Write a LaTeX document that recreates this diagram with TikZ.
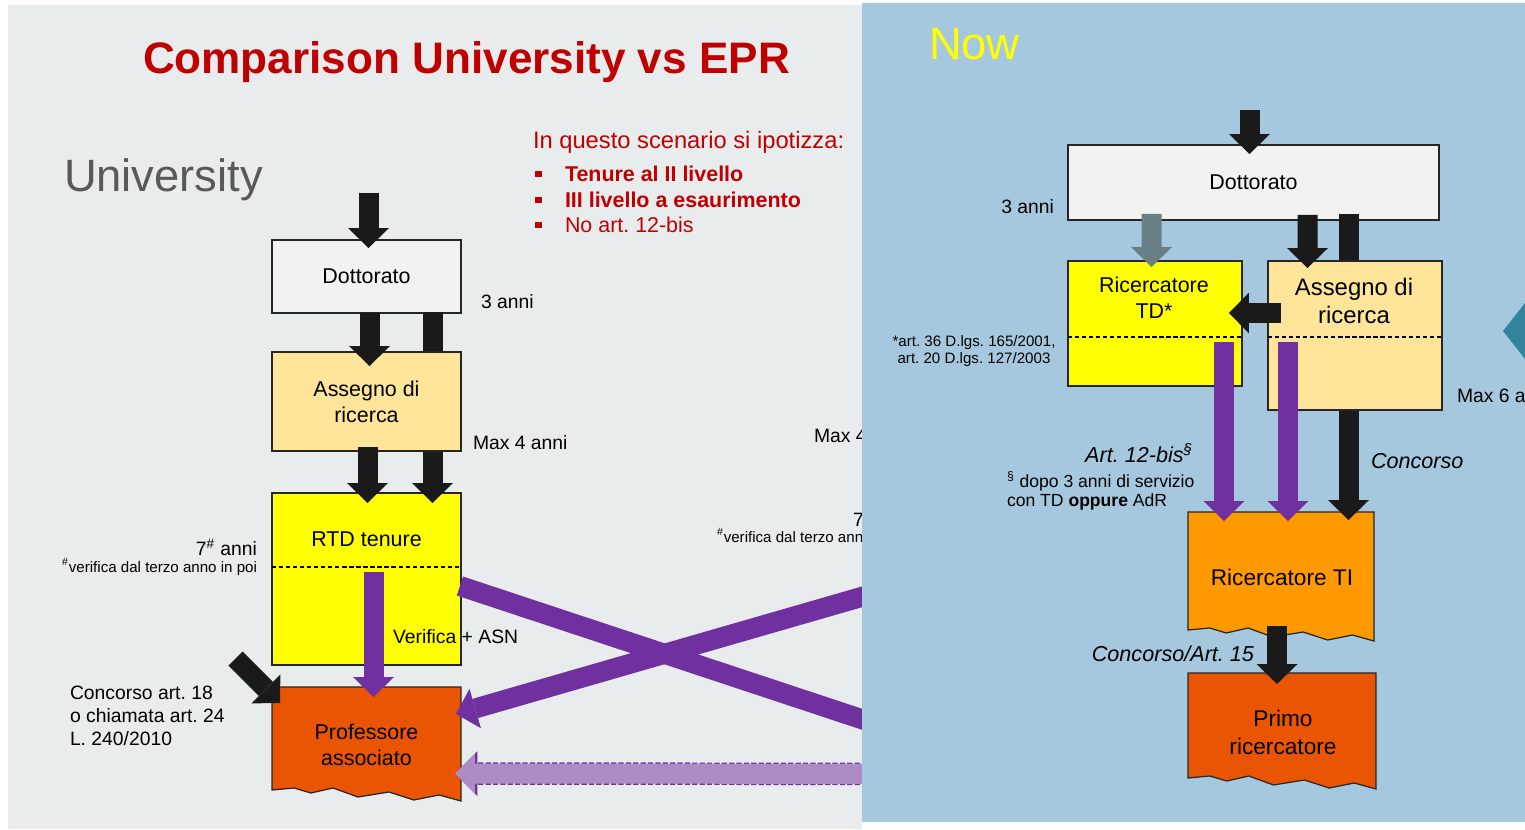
\documentclass[tikz,border=0pt]{standalone}
\usepackage{fontspec}
\setmainfont{Liberation Sans}
\usetikzlibrary{arrows.meta, calc, positioning}
\frenchspacing

\definecolor{panelgrey}{RGB}{232,236,237}
\definecolor{panelblue}{RGB}{166,200,222}
\definecolor{boxline}{RGB}{38,38,38}
\definecolor{boxgrey}{RGB}{242,242,242}
\definecolor{boxcream}{RGB}{255,229,153}
\definecolor{boxyellow}{RGB}{255,255,0}
\definecolor{boxorange}{RGB}{255,153,0}
\definecolor{boxred}{RGB}{234,85,4}
\definecolor{arrblack}{RGB}{26,26,26}
\definecolor{arrgrey}{RGB}{106,127,133}
\definecolor{arrpurple}{RGB}{112,48,160}
\definecolor{arrlilac}{RGB}{173,140,198}
\definecolor{slidered}{RGB}{192,0,0}
\definecolor{slidegrey}{RGB}{89,89,89}
\definecolor{nowyellow}{RGB}{255,255,0}
\definecolor{eprteal}{RGB}{49,132,155}

\newcommand{\boxfont}{\fontsize{12.2}{14.7}\selectfont}
\newcommand{\bigboxfont}{\fontsize{13.6}{15.9}\selectfont}
\newcommand{\tornfont}{\fontsize{12.9}{15.9}\selectfont}
\newcommand{\notefont}{\fontsize{11}{13}\selectfont}
\newcommand{\smallnotefont}{\fontsize{8.6}{9.6}\selectfont}
\newcommand{\lawfont}{\fontsize{10}{10.8}\selectfont}
\newcommand{\pathfont}{\fontsize{12.3}{14}\selectfont\itshape}

% box with a torn lower edge, drawn round a named node
\newcommand{\tornbox}[2]{%
  \filldraw[#2] (#1.north west) -- (#1.north east)
    -- ($(#1.south east)+(0,11)$)
    -- ($(#1.south west)!0.884!(#1.south east)+(0,5)$)
    -- ($(#1.south west)!0.751!(#1.south east)+(0,10)$)
    -- ($(#1.south west)!0.619!(#1.south east)+(0,2)$)
    -- ($(#1.south west)!0.455!(#1.south east)+(0,7)$)
    -- ($(#1.south west)!0.323!(#1.south east)+(0,-2)$)
    -- ($(#1.south west)!0.206!(#1.south east)+(0,3)$)
    -- ($(#1.south west)!0.116!(#1.south east)+(0,-2)$)
    -- (#1.south west) -- cycle;}

\tikzset{
  box/.style={draw=boxline, line width=0.7pt, inner sep=0pt, outer sep=0pt, align=center, font=\boxfont},
  tornnode/.style={inner sep=0pt, outer sep=0pt},
  torn/.style={draw=boxline, line width=0.7pt},
  lbl/.style={inner sep=0pt, outer sep=0pt, font=\notefont},
  fat/.style={line width=0.4cm, -{Triangle[length=0.4cm, width=0.82cm, line width=0pt]}},
  bar/.style={line width=0.4cm},
  sepline/.style={line width=0.6pt, dash pattern=on 2.4pt off 1.6pt},
  lilacrim/.style={draw=arrpurple, line width=0.4cm+1.4pt, dash pattern=on 3pt off 1.2pt,
    -{Triangle[length=0.4cm+1.4pt, width=0.8cm+2.8pt, line width=0pt]}},
  lilac/.style={draw=arrlilac, line width=0.4cm, -{Triangle[length=0.4cm, width=0.8cm, line width=0pt]}},
  bullet/.style={fill=slidered, inner sep=0pt, minimum size=6.5*0.02cm}
}

\begin{document}
\begin{tikzpicture}[x=0.02cm, y=-0.02cm]
\useasboundingbox (0,0) rectangle (1525,829);
\clip (0,0) rectangle (1525,829);
\fill[white] (0,0) rectangle (1525,829);
\fill[panelgrey] (8,5) rectangle (862,829);

% University side
\node[lbl, anchor=base west, font=\fontsize{25.1}{30}\selectfont\bfseries, text=slidered] (title) at (143,73) {Comparison University vs EPR};
\node[lbl, anchor=base west, font=\fontsize{25.8}{30}\selectfont, text=slidegrey] (uni) at (64,191) {University};
\node[lbl, anchor=base west, font=\fontsize{13.5}{16}\selectfont, text=slidered] (hyp) at (533,148) {In questo scenario si ipotizza:};
\node[bullet] (b1) at (538.5,174) {};
\node[bullet] (b2) at (538.5,200) {};
\node[bullet] (b3) at (538.5,225) {};
\node[lbl, anchor=base west, font=\fontsize{12.2}{14}\selectfont\bfseries, text=slidered] (h1) at (565,181) {Tenure al II livello};
\node[lbl, anchor=base west, font=\fontsize{12.2}{14}\selectfont\bfseries, text=slidered] (h2) at (565,207) {III livello a esaurimento};
\node[lbl, anchor=base west, font=\fontsize{12.2}{14}\selectfont, text=slidered] (h3) at (565,232) {No art. 12-bis};

\node[box, fill=boxgrey, minimum width=3.78cm, minimum height=1.46cm] (dotL) at (366.5,276.5) {Dottorato};
\node[box, fill=boxyellow, minimum width=3.78cm, minimum height=3.44cm] (rtd) at (366.5,579) {};
\draw[fat, arrblack] ($(dotL.south)+(66,-1)$) -- ($(rtd.north)+(66,10)$);
\node[box, fill=boxcream, minimum width=3.78cm, minimum height=1.98cm] (assL) at (366.5,401.5) {Assegno di\\ricerca};
\node[tornnode, minimum width=3.78cm, minimum height=2.06cm] (prof) at (366.5,738.5) {};
\tornbox{prof}{torn, fill=boxred}
\draw[sepline] ($(rtd.north west)+(0,74)$) -- ($(rtd.north east)+(0,74)$);
\node[lbl, font=\boxfont] (rtdtxt) at (366.5,539) {RTD tenure};
\node[lbl, font=\boxfont, align=center] (proftxt) at (366.5,744.5) {Professore\\associato};

\coordinate (inL) at (368.5,193);
\coordinate (inP) at (235.5,658.5);
\draw[fat, arrblack] (inL) -- ($(dotL.north)+(2,8)$);
\draw[fat, arrblack] ($(dotL.south)+(3,0)$) -- ($(assL.north)+(3,14)$);
\draw[fat, arrblack] ($(assL.south)+(1,-4)$) -- ($(rtd.north)+(1,10)$);
\draw[fat, arrpurple] ($(rtd.north)+(7,79)$) -- ($(prof.north)+(7,10)$);
\draw[fat, arrblack] (inP) -- ($(prof.north west)+(8,16)$);

\node[lbl, anchor=base west] (y3L) at (481,308) {3 anni};
\node[lbl, anchor=base west] (max4L) at (473,449) {Max 4 anni};
\node[lbl, anchor=base east] (y7L) at (257,555) {7\textsuperscript{\#} anni};
\node[lbl, anchor=base east, font=\smallnotefont] (verL) at (257,572) {\textsuperscript{\#}verifica dal terzo anno in poi};
\node[lbl, anchor=base west] (asn) at (393,643) {Verifica + ASN};
\node[lbl, anchor=north west, align=left] (concL) at (70,686) {Concorso art. 18\\o chiamata art. 24\\L. 240/2010};

% towards the EPR side, hidden by its panel
\coordinate (epA) at (1000,765);
\coordinate (epB) at (1000,557);
\coordinate (epC) at (1000,774);
\draw[bar, arrpurple] ($(rtd.east)+(-1,7)$) -- (epA);
\draw[fat, arrpurple] (epB) -- ($(prof.east)+(-5,-24.5)$);
\draw[lilacrim] (epC) -- ($(prof.east)+(-6,35)$);
\draw[lilac] (epC) -- ($(prof.east)+(-6,35)$);
\begin{scope}
\clip (8,5) rectangle (862,829);
\node[lbl, anchor=base west] (max4M) at (814,442) {Max 4 anni};
\node[lbl, anchor=base west] (y7M) at (853,526) {7\textsuperscript{\#} anni};
\node[lbl, anchor=base west, font=\smallnotefont] (verM) at (717,542) {\textsuperscript{\#}verifica dal terzo anno in poi};
\end{scope}

% EPR side
\fill[panelblue] (862,3) rectangle (1525,822);
\node[lbl, anchor=base west, font=\fontsize{25.8}{30}\selectfont, text=nowyellow] (now) at (929,59) {Now};
\fill[eprteal] (1503,331) -- (1540,284) -- (1577,331) -- (1540,378) -- cycle;

\node[box, fill=boxgrey, minimum width=7.42cm, minimum height=1.5cm] (dotR) at (1253.5,182.5) {Dottorato};
\node[tornnode, minimum width=3.72cm, minimum height=2.36cm] (rti) at (1281,571) {};
\tornbox{rti}{torn, fill=boxorange}
\draw[fat, arrblack] ($(dotR.south)+(95,-6)$) -- ($(rti.north)+(67.5,8)$);
\node[box, fill=boxyellow, minimum width=3.48cm, minimum height=2.5cm] (rtdR) at (1155,323.5) {};
\node[box, fill=boxcream, minimum width=3.48cm, minimum height=2.98cm] (assR) at (1355,335.5) {};
\node[tornnode, minimum width=3.76cm, minimum height=2.1cm] (primo) at (1282,725.5) {};
\tornbox{primo}{torn, fill=boxred}
\draw[sepline] ($(rtdR.north west)+(0,76)$) -- ($(rtdR.north east)+(0,76)$);
\draw[sepline] ($(assR.north west)+(0,76)$) -- ($(assR.north east)+(0,76)$);
\node[lbl, font=\boxfont, align=center] (rtdRtxt) at (1154,298) {Ricercatore\\TD*};
\node[lbl, font=\bigboxfont, align=center] (assRtxt) at (1354,300.5) {Assegno di\\ricerca};
\node[lbl, anchor=base, font=\tornfont] (ritxt) at (1282,585) {Ricercatore TI};
\node[lbl, font=\tornfont, align=center] (primotxt) at (1283,732) {Primo\\ricercatore};

\coordinate (inR) at (1249.5,110);
\draw[fat, arrblack] (inR) -- ($(dotR.north)+(-4,9)$);
\draw[fat, arrgrey] ($(dotR.south)+(-102,-6)$) -- ($(rtdR.north)+(-3.5,6)$);
\draw[fat, arrblack] ($(dotR.south)+(54,-5)$) -- ($(assR.north)+(-47.5,7)$);
\draw[fat, arrblack] ($(assR.west)+(13,-22.5)$) -- ($(rtdR.east)+(-13,-10.5)$);
\draw[fat, arrpurple] ($(rtdR.south)+(69,-44)$) -- ($(rti.north)+(-57,9)$);
\draw[fat, arrpurple] ($(assR.south)+(-67,-68)$) -- ($(rti.north)+(7,9)$);
\draw[fat, arrblack] ($(rti.south)+(-4,-4)$) -- ($(primo.north)+(-5,11)$);

\node[lbl, anchor=base east] (y3R) at (1054,213) {3 anni};
\node[lbl, font=\smallnotefont, align=center] (lawR) at (974,351.5) {*art. 36 D.lgs. 165/2001,\\art. 20 D.lgs. 127/2003};
\node[lbl, anchor=base west] (max6) at (1457,402) {Max 6 anni};
\node[lbl, anchor=base east, font=\pathfont] (art12) at (1193,462) {Art. 12-bis\textsuperscript{\S}};
\node[lbl, anchor=north west, align=left, font=\lawfont] (dopo) at (1007,472) {\textsuperscript{\S} dopo 3 anni di servizio\\con TD \textbf{oppure} AdR};
\node[lbl, anchor=base west, font=\pathfont] (concR) at (1371,468) {Concorso};
\node[lbl, anchor=base east, font=\pathfont] (conc15) at (1254,661) {Concorso/Art. 15};
\end{tikzpicture}
\end{document}
